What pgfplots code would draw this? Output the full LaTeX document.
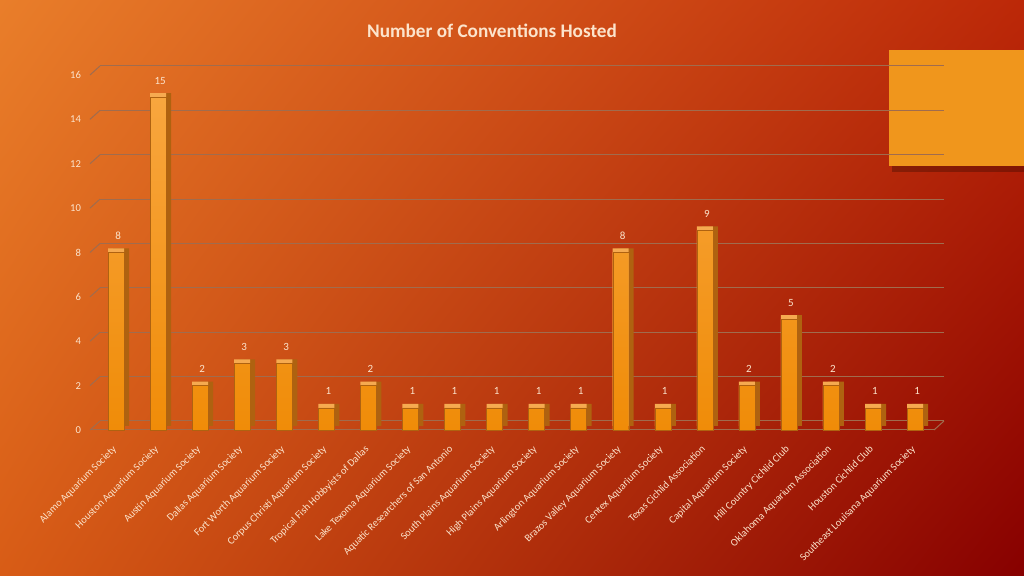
\documentclass[border=0pt]{standalone}
\usepackage{pgfplots}
\pgfplotsset{compat=1.18}
\usetikzlibrary{shadings}
\usepackage{fontspec}
\setmainfont{Carlito}

\definecolor{bgUL}{RGB}{233,126,42}
\definecolor{bgUR}{RGB}{188,40,8}
\definecolor{bgLL}{RGB}{216,92,22}
\definecolor{bgLR}{RGB}{135,0,0}
\definecolor{boxorange}{RGB}{240,150,28}
\definecolor{gridc}{RGB}{160,108,78}
\definecolor{cream}{RGB}{252,228,204}
\definecolor{barTop}{RGB}{248,166,62}
\definecolor{barBot}{RGB}{240,140,8}
\definecolor{barSide}{RGB}{175,98,16}
\definecolor{barLid}{RGB}{246,170,80}

\pgfplotstableread{
x  n
0  8
1  15
2  2
3  3
4  3
5  1
6  2
7  1
8  1
9  1
10 1
11 1
12 8
13 1
14 9
15 2
16 5
17 2
18 1
19 1
}\conventions

\begin{document}
\begin{tikzpicture}
% background
\shade[upper left=bgUL, upper right=bgUR, lower left=bgLL, lower right=bgLR]
  (0pt,0pt) rectangle (512pt,288pt);
% empty legend box
\fill[black,opacity=0.25] (446pt,202pt) rectangle (512pt,261pt);
\fill[boxorange] (444.5pt,205pt) rectangle (512pt,263pt);
% title
\node[text=cream, font=\fontsize{9.6}{11}\selectfont\bfseries] at (246pt,272.5pt)
  {Number of Conventions Hosted};

\begin{axis}[
    at={(45pt,73pt)}, anchor=south west,
    scale only axis, width=422pt, height=177.5pt,
    xmin=-0.62, xmax=19.45,
    ymin=0, ymax=16,
    ytick={0,2,...,16},
    xtick=data,
    xticklabels={Alamo Aquarium Society, Houston Aquarium Society,
      Austin Aquarium Society, Dallas Aquarium Society,
      Fort Worth Aquarium Society, Corpus Christi Aquarium Society,
      Tropical Fish Hobbyists of Dallas, Lake Texoma Aquarium Society,
      Aquatic Researchers of San Antonio, South Plains Aquarium Society,
      High Plains Aquarium Society, Arlington Aquarium Society,
      Brazos Valley Aquarium Society, Centex Aquarium Society,
      Texas Cichlid Association, Capital Aquarium Society,
      Hill Country Cichlid Club, Oklahoma Aquarium Association,
      Houston Cichlid Club, Southeast Louisana Aquarium Society},
    xticklabel style={rotate=45, anchor=north east, inner sep=0.5pt,
      font=\fontsize{5.2}{6}\selectfont, text=cream, xshift=-6pt, yshift=-3pt},
    yticklabel style={font=\fontsize{5.3}{6}\selectfont, text=cream, xshift=-1pt},
    /pgf/number format/assume math mode=true,
    major tick length=0pt,
    ymajorgrids,
    major grid style={gridc, line width=0.5pt, xshift=5pt, yshift=4.5pt},
    axis lines*=left,
    x axis line style={gridc, line width=0.5pt, -},
    y axis line style={draw=none},
    clip=false,
    ybar, bar width=8pt,
]
% side faces of the 3D bars
\addplot[ybar, fill=barSide, draw=none, bar shift=2.5pt, yshift=2pt]
  table[x=x, y=n] {\conventions};
% top faces
\addplot[ybar, fill=barLid, draw=none, bar shift=0pt, yshift=2pt]
  table[x=x, y=n] {\conventions};
% front faces
\addplot[ybar, top color=barTop, bottom color=barBot, draw=barSide, line width=0.2pt,
    bar shift=0pt,
    nodes near coords,
    every node near coord/.append style={text=cream,
      font=\fontsize{5.5}{6}\selectfont, yshift=3pt, xshift=1pt}]
  table[x=x, y=n] {\conventions};
% floor / wall edges
\pgfplotsinvokeforeach{0,2,...,16}{
  \draw[gridc, line width=0.5pt] (axis cs:-0.62,#1) -- ++(5pt,4.5pt);
}
\draw[gridc, line width=0.5pt] (axis cs:19.45,0) -- ++(5pt,4.5pt);
\end{axis}
\end{tikzpicture}
\end{document}
